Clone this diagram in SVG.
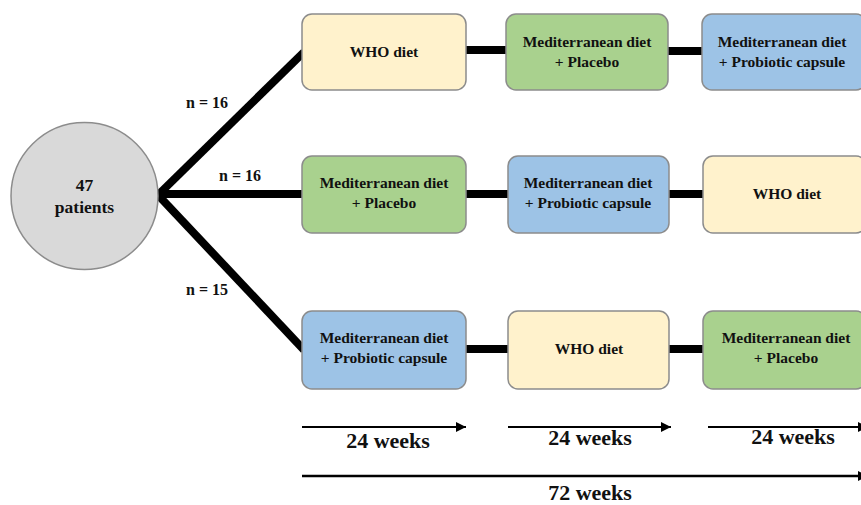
<svg xmlns="http://www.w3.org/2000/svg" width="861" height="505" viewBox="0 0 861 505">
<defs>
<style>
.box{stroke:#8c8c8c;stroke-width:1.5}
.who{fill:#FFF2CC}
.plac{fill:#A9D18E}
.prob{fill:#9DC3E6}
.t{font-family:"Liberation Serif","Times New Roman",serif;font-weight:bold;fill:#111;text-anchor:middle}
.bt{font-size:15.5px}
.lbl{font-size:16px}
.wk{font-size:22px}
.conn{stroke:#000;stroke-width:8;fill:none}
.tl{stroke:#000;stroke-width:2;fill:none}
</style>
<marker id="ah" viewBox="0 0 10 10" refX="10" refY="5" markerWidth="10" markerHeight="10" markerUnits="userSpaceOnUse" orient="auto">
<path d="M0,0 L10,5 L0,10 z" fill="#000"/>
</marker>
</defs>
<rect width="861" height="505" fill="#fff"/>
<g id="connectors">
<path class="conn" d="M158,195 L304,52"/>
<path class="conn" d="M158,194 L304,194"/>
<path class="conn" d="M158,195 L304,350"/>
<path class="conn" d="M466,50 L506,50"/>
<path class="conn" d="M668,51 L702,51"/>
<path class="conn" d="M466,194 L508,194"/>
<path class="conn" d="M669,194 L703,194"/>
<path class="conn" d="M466,349 L508,349"/>
<path class="conn" d="M669,349 L703,349"/>
</g>
<g id="labels">
<text class="t lbl" x="207" y="108">n = 16</text>
<text class="t lbl" x="240" y="181">n = 16</text>
<text class="t lbl" x="207" y="295">n = 15</text>
</g>
<g id="patients">
<circle cx="84.5" cy="196" r="73.5" fill="#D9D9D9" stroke="#8c8c8c" stroke-width="1.5"/>
<text class="t" style="font-size:17.5px" x="84.5" y="191">47</text>
<text class="t" style="font-size:17.5px" x="84.5" y="213">patients</text>
</g>
<g id="r1c1"><rect class="box who" x="302" y="14" width="164" height="76" rx="10"/><text class="t bt" x="384" y="57">WHO diet</text></g>
<g id="r1c2"><rect class="box plac" x="506" y="14" width="162" height="76" rx="10"/><text class="t bt" x="587" y="47">Mediterranean diet</text><text class="t bt" x="587" y="67">+ Placebo</text></g>
<g id="r1c3"><rect class="box prob" x="702" y="14" width="164" height="76" rx="10"/><text class="t bt" x="782" y="47">Mediterranean diet</text><text class="t bt" x="782" y="67">+ Probiotic capsule</text></g>
<g id="r2c1"><rect class="box plac" x="302" y="156" width="164" height="77" rx="10"/><text class="t bt" x="384" y="188">Mediterranean diet</text><text class="t bt" x="384" y="208">+ Placebo</text></g>
<g id="r2c2"><rect class="box prob" x="508" y="156" width="161" height="77" rx="10"/><text class="t bt" x="588" y="188">Mediterranean diet</text><text class="t bt" x="588" y="208">+ Probiotic capsule</text></g>
<g id="r2c3"><rect class="box who" x="703" y="156" width="163" height="77" rx="10"/><text class="t bt" x="787" y="199">WHO diet</text></g>
<g id="r3c1"><rect class="box prob" x="302" y="311" width="164" height="78" rx="10"/><text class="t bt" x="384" y="343">Mediterranean diet</text><text class="t bt" x="384" y="363">+ Probiotic capsule</text></g>
<g id="r3c2"><rect class="box who" x="508" y="311" width="161" height="78" rx="10"/><text class="t bt" x="589" y="354">WHO diet</text></g>
<g id="r3c3"><rect class="box plac" x="703" y="311" width="163" height="78" rx="10"/><text class="t bt" x="786" y="343">Mediterranean diet</text><text class="t bt" x="786" y="363">+ Placebo</text></g>
<g id="timeline">
<path class="tl" d="M302,427 L466,427" marker-end="url(#ah)"/>
<path class="tl" d="M508,427 L671,427" marker-end="url(#ah)"/>
<path class="tl" d="M708,427 L868,427" marker-end="url(#ah)"/>
<path class="tl" d="M302,476 L868,476" style="stroke-width:2.5" marker-end="url(#ah)"/>
<text class="t wk" x="388" y="448">24 weeks</text>
<text class="t wk" x="590" y="445">24 weeks</text>
<text class="t wk" x="793" y="444">24 weeks</text>
<text class="t wk" x="590" y="500">72 weeks</text>
</g>
</svg>
